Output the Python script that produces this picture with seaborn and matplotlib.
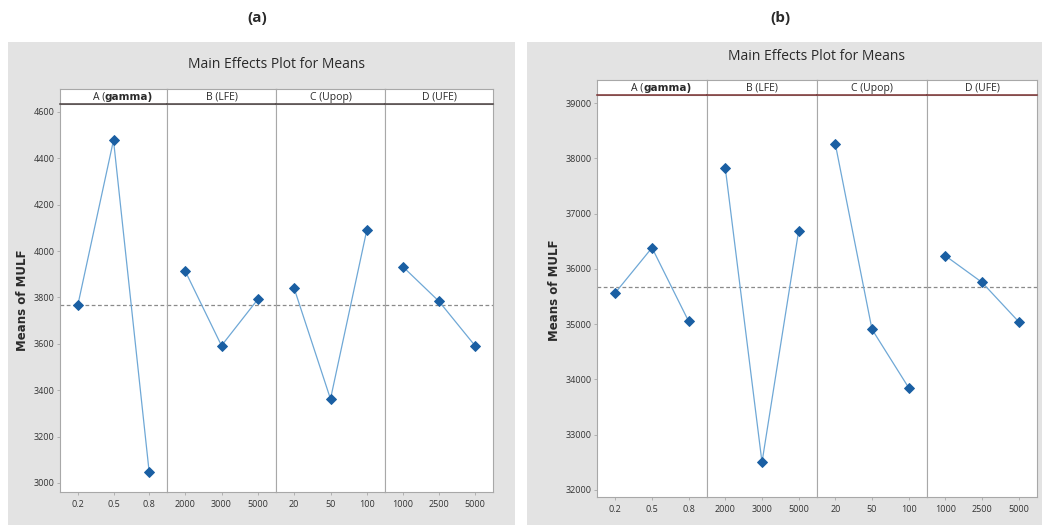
import numpy as np
import pandas as pd
import matplotlib
matplotlib.use("Agg")
import matplotlib.pyplot as plt
from matplotlib.patches import Rectangle
import seaborn as sns

# ---------------- data ----------------
factors = ["A (gamma)", "B (LFE)", "C (Upop)", "D (UFE)"]
levels_A = ["0.2", "0.5", "0.8"]
levels_B = ["2000", "3000", "5000"]
levels_C = ["20", "50", "100"]
levels_D = ["1000", "2500", "5000"]

# panel (a) means of MULF
a_A = [3767, 4478, 3047]
a_B = [3914, 3592, 3792]
a_C = [3839, 3362, 4091]
a_D = [3932, 3783, 3592]

# panel (b) means of MULF
b_A = [35568, 36382, 35050]
b_B = [37817, 32500, 36689]
b_C = [38257, 34906, 33850]
b_D = [36237, 35756, 35044]

a_yticks = [3000, 3200, 3400, 3600, 3800, 4000, 4200, 4400, 4600]
b_yticks = [32000, 33000, 34000, 35000, 36000, 37000, 38000, 39000]

panel_labels = ["(a)", "(b)"]
title = "Main Effects Plot for Means"
ylabel = "Means of MULF"

# ---------------- style ----------------
sns.set_theme(style="white")
plt.rcParams["font.family"] = ["Open Sans", "DejaVu Sans"]

W, H = 1042, 525
fig = plt.figure(figsize=(W / 100, H / 100), dpi=100)
fig.patch.set_facecolor("white")

def fx(x):
    return x / W

def fy(y):
    return 1 - y / H

LINE_C = "#6fa8d6"
MARK_C = "#1a5fa3"
BG = "#e3e3e3"
FRAME = "#a8a8a8"
TXT = "#2a2a2a"

levels_all = [levels_A, levels_B, levels_C, levels_D]

panels = [
    dict(vals=[a_A, a_B, a_C, a_D], yticks=a_yticks, ylim=(2961, 4634),
         edges=[60, 167, 276, 385, 493], top=104, bottom=492, strip_top=89,
         bg=(8, 42, 515, 525), title_y=65, ylab_x=23, ylab_y=300, lab_x=257,
         strip_line="#4a4040"),
    dict(vals=[b_A, b_B, b_C, b_D], yticks=b_yticks, ylim=(31873, 39145),
         edges=[597, 707, 817, 927, 1037], top=95, bottom=497, strip_top=80,
         bg=(527, 42, 1042, 525), title_y=57, ylab_x=555, ylab_y=290, lab_x=780,
         strip_line="#7a3030"),
]

for p, plabel in zip(panels, panel_labels):
    x0, y0, x1, y1 = p["bg"]
    fig.add_artist(Rectangle((fx(x0), fy(y1)), fx(x1) - fx(x0), fy(y0) - fy(y1),
                             transform=fig.transFigure, facecolor=BG,
                             edgecolor="none", zorder=0))
    fig.text(fx(p["lab_x"]), fy(18), plabel, ha="center", va="center",
             fontsize=11, fontweight="bold", color=TXT)
    cx = (p["edges"][0] + p["edges"][-1]) / 2
    fig.text(fx(cx), fy(p["title_y"]), title, ha="center", va="center",
             fontsize=10, color=TXT)
    fig.text(fx(p["ylab_x"]), fy(p["ylab_y"]), ylabel, ha="center", va="center",
             rotation=90, fontsize=8.5, fontweight="bold", color=TXT,
             family=["DejaVu Sans"])

    all_vals = np.concatenate([np.asarray(v, float) for v in p["vals"]])
    grand_mean = all_vals.mean()

    edges = p["edges"]
    for i in range(4):
        left, right = edges[i], edges[i + 1]
        ax = fig.add_axes([fx(left), fy(p["bottom"]), fx(right) - fx(left),
                           fy(p["top"]) - fy(p["bottom"])])
        ax.set_facecolor("white")
        df = pd.DataFrame({"level": levels_all[i], "mean": p["vals"][i]})
        sns.pointplot(data=df, x="level", y="mean", order=levels_all[i], ax=ax,
                      color=MARK_C, markers="D", linestyles="-",
                      markersize=5, linewidth=0.9, errorbar=None)
        for ln in ax.lines:
            ln.set_color(LINE_C)
            ln.set_markerfacecolor(MARK_C)
            ln.set_markeredgecolor(MARK_C)
            ln.set_zorder(3)
        ax.axhline(grand_mean, ls=(0, (3, 2)), color="#8a8a8a", lw=0.9, zorder=1)
        ax.set_xlim(-0.5, 2.5)
        ax.set_ylim(*p["ylim"])
        ax.set_xlabel("")
        ax.set_ylabel("")
        ax.tick_params(axis="x", length=2, width=0.6, color=FRAME, pad=4,
                       labelsize=6.5, labelcolor="#333333", bottom=True)
        ax.set_yticks(p["yticks"])
        if i == 0:
            ax.set_yticklabels([str(t) for t in p["yticks"]])
            ax.tick_params(axis="y", length=2, width=0.6, color=FRAME, pad=2,
                           labelsize=6.5, labelcolor="#333333", left=True)
        else:
            ax.tick_params(axis="y", left=False, labelleft=False)
        for s in ax.spines.values():
            s.set_color(FRAME)
            s.set_linewidth(0.8)

        # strip header
        sax = fig.add_axes([fx(left), fy(p["top"]), fx(right) - fx(left),
                            fy(p["strip_top"]) - fy(p["top"])])
        sax.set_facecolor("white")
        sax.set_xticks([])
        sax.set_yticks([])
        for s in sax.spines.values():
            s.set_color(FRAME)
            s.set_linewidth(0.8)
        sax.spines["bottom"].set_color(p["strip_line"])
        sax.spines["bottom"].set_linewidth(1.1)
        name = factors[i]
        if i == 0:
            sax.text(0.42, 0.45, "A (", ha="right", va="center", fontsize=7.5,
                     transform=sax.transAxes, color=TXT)
            sax.text(0.42, 0.45, "gamma)", ha="left", va="center", fontsize=7.5,
                     fontweight="bold", family=["DejaVu Sans"],
                     transform=sax.transAxes, color=TXT)
        else:
            sax.text(0.5, 0.45, name, ha="center", va="center", fontsize=7.5,
                     transform=sax.transAxes, color=TXT)

fig.savefig("out.png", dpi=100)
